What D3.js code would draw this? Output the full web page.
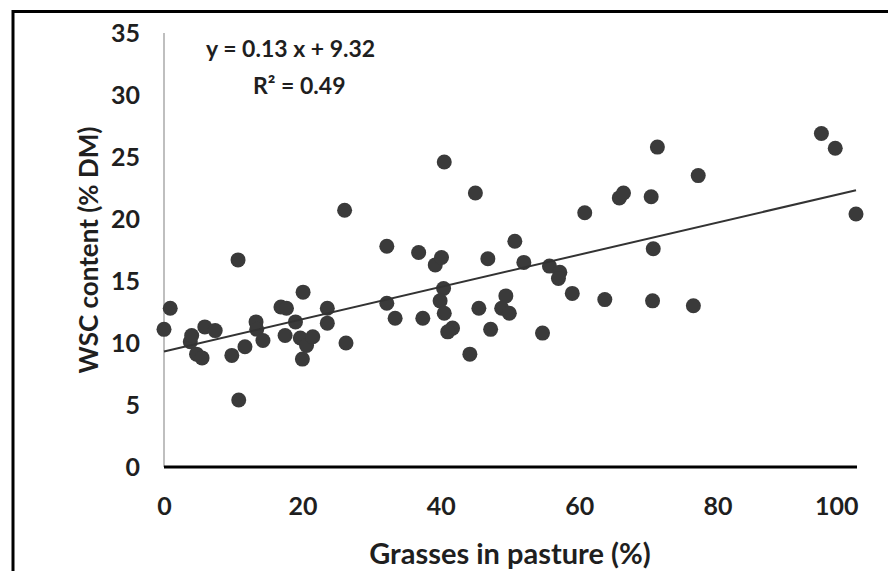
<!DOCTYPE html>
<html>
<head>
<meta charset="utf-8">
<script src="https://cdn.jsdelivr.net/npm/d3@7"></script>
<style>
  html, body { margin: 0; padding: 0; background: #fff; }
  svg { display: block; }
  text { font-family: "Lato", "Open Sans", sans-serif; font-weight: 700; fill: #1f1f1f; }
</style>
</head>
<body>
<svg id="chart" width="888" height="571"></svg>
<script>
// Grasses share in pasture (%) and water-soluble carbohydrate content (% DM)
const grasses = [
  0.0, 0.9, 3.8, 4.0, 4.7, 5.5, 5.9, 7.4, 9.8, 10.7,
  10.8, 11.7, 13.3, 13.4, 14.3, 16.9, 17.7, 17.5, 19.0, 19.7,
  20.1, 20.6, 21.5, 20.0, 23.6, 23.6, 26.1, 26.3, 32.2, 32.2,
  33.4, 36.8, 37.4, 39.2, 40.1, 40.5, 40.4, 39.9, 40.5, 41.7,
  41.0, 44.2, 45.0, 45.5, 46.8, 47.2, 49.4, 48.8, 49.9, 50.7,
  52.0, 54.7, 55.7, 57.2, 57.0, 59.0, 60.8, 63.7, 65.8, 66.4,
  70.4, 70.7, 70.6, 71.3, 76.5, 77.2, 95.0, 97.0, 100.0
];
const wsc = [
  11.1, 12.8, 10.1, 10.6, 9.1, 8.8, 11.3, 11.0, 9.0, 16.7,
  5.4, 9.7, 11.7, 11.1, 10.2, 12.9, 12.8, 10.6, 11.7, 10.4,
  14.1, 9.8, 10.5, 8.7, 12.8, 11.6, 20.7, 10.0, 17.8, 13.2,
  12.0, 17.3, 12.0, 16.3, 16.9, 24.6, 14.4, 13.4, 12.4, 11.2,
  10.9, 9.1, 22.1, 12.8, 16.8, 11.1, 13.8, 12.8, 12.4, 18.2,
  16.5, 10.8, 16.2, 15.7, 15.2, 14.0, 20.5, 13.5, 21.7, 22.1,
  21.8, 17.6, 13.4, 25.8, 13.0, 23.5, 26.9, 25.7, 20.4
];

// Linear trendline
const slope = 0.13;
const intercept = 9.32;
const rSquared = 0.49;

const xTicks = [0, 20, 40, 60, 80, 100];
const yTicks = [0, 5, 10, 15, 20, 25, 30, 35];

const xTitle = "Grasses in pasture (%)";
const yTitle = "WSC content (% DM)";

const svg = d3.select("#chart");

const x = d3.scaleLinear().domain([0, 100]).range([164, 856]);
const y = d3.scaleLinear().domain([0, 35]).range([467, 33]);

// Outer frame (runs past the right and bottom edges)
svg.append("rect")
  .attr("x", 13).attr("y", 11.5)
  .attr("width", 900).attr("height", 600)
  .attr("fill", "none").attr("stroke", "#000").attr("stroke-width", 3);

// Y axis
const gy = svg.append("g")
  .attr("transform", `translate(${x(0)},0)`)
  .call(d3.axisLeft(y).tickValues(yTicks).tickSize(0).tickPadding(24));
gy.select(".domain").remove();
gy.selectAll("text").style("font-size", "25px").attr("font-family", null);
svg.append("line")
  .attr("x1", x(0)).attr("x2", x(0))
  .attr("y1", y(35)).attr("y2", y(0))
  .attr("stroke", "#bfbfbf").attr("stroke-width", 2);

// X axis
const gx = svg.append("g")
  .attr("transform", `translate(0,${y(0)})`)
  .call(d3.axisBottom(x).tickValues(xTicks).tickSize(0).tickPadding(30));
gx.select(".domain").remove();
gx.selectAll("text").style("font-size", "25px").attr("font-family", null);
// keep the last label inside the plot's right edge
gx.selectAll(".tick").filter(d => d === 100).select("text")
  .attr("text-anchor", "end").attr("x", 2);
svg.append("line")
  .attr("x1", x(0)).attr("x2", x(100) + 1)
  .attr("y1", y(0)).attr("y2", y(0))
  .attr("stroke", "#000").attr("stroke-width", 3);

// Axis titles
svg.append("text")
  .attr("x", 510).attr("y", 564)
  .attr("text-anchor", "middle")
  .style("font-size", "29px")
  .text(xTitle);

svg.append("text")
  .attr("transform", `translate(98,250) rotate(-90)`)
  .attr("text-anchor", "middle")
  .style("font-size", "26px")
  .text(yTitle);

// Points
const pts = grasses.map((g, i) => ({ g, w: wsc[i] }));
svg.append("g")
  .selectAll("circle")
  .data(pts)
  .join("circle")
  .attr("cx", d => x(d.g))
  .attr("cy", d => y(d.w))
  .attr("r", 7.5)
  .attr("fill", "#3a3a3a");

// Trendline
const line = d3.line().x(d => x(d)).y(d => y(slope * d + intercept));
svg.append("path")
  .datum([0, 100])
  .attr("d", line)
  .attr("fill", "none")
  .attr("stroke", "#333")
  .attr("stroke-width", 2);

// Trendline equation
svg.append("text")
  .attr("x", 206).attr("y", 57)
  .style("font-size", "23px")
  .text(`y = ${slope.toFixed(2)} x + ${intercept.toFixed(2)}`);
svg.append("text")
  .attr("x", 253).attr("y", 94)
  .style("font-size", "23px")
  .text(`R² = ${rSquared.toFixed(2)}`);
</script>
</body>
</html>
